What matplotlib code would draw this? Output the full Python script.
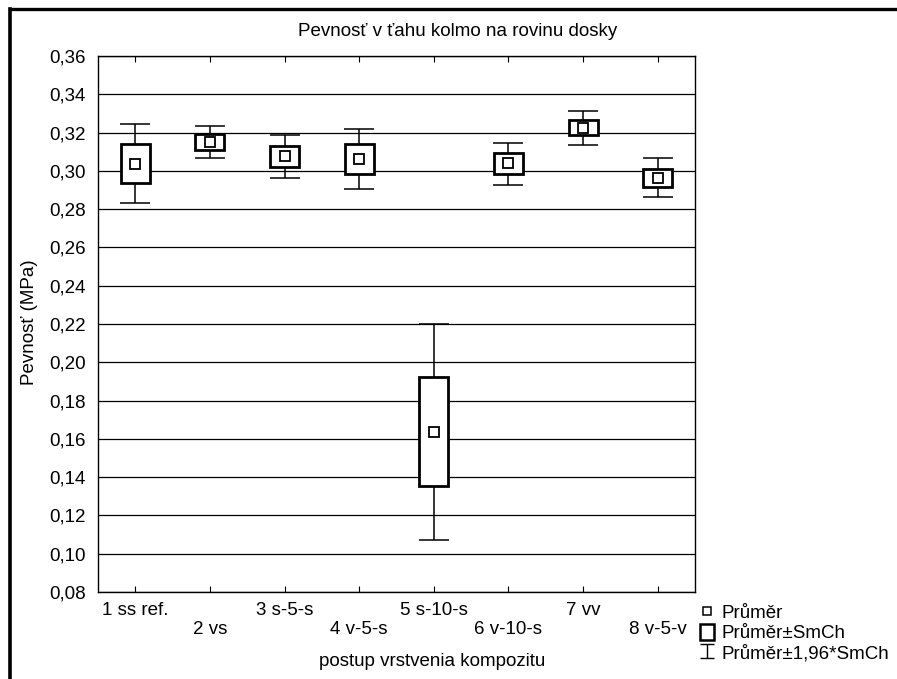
import matplotlib
matplotlib.use("Agg")
import matplotlib.pyplot as plt
from matplotlib.lines import Line2D
from matplotlib.patches import Rectangle
from matplotlib.path import Path

plt.rcParams['font.family'] = ['Liberation Sans', 'DejaVu Sans']

# data
groups = ['1 ss ref.', '2 vs', '3 s-5-s', '4 v-5-s', '5 s-10-s', '6 v-10-s', '7 vv', '8 v-5-v']
mean = [0.3038, 0.3151, 0.3076, 0.3063, 0.1636, 0.3040, 0.3226, 0.2963]
se_lo = [0.2935, 0.3111, 0.3021, 0.2986, 0.1354, 0.2986, 0.3186, 0.2916]
se_hi = [0.3138, 0.3193, 0.3128, 0.3138, 0.1922, 0.3093, 0.3268, 0.3010]
ci_lo = [0.2830, 0.3068, 0.2963, 0.2905, 0.1072, 0.2926, 0.3137, 0.2863]
ci_hi = [0.3244, 0.3233, 0.3186, 0.3219, 0.2200, 0.3147, 0.3314, 0.3065]
yticks = [0.08, 0.10, 0.12, 0.14, 0.16, 0.18, 0.20, 0.22, 0.24, 0.26, 0.28, 0.30, 0.32, 0.34, 0.36]

fs = 13.5
W, H = 897, 679
fig = plt.figure(figsize=(W / 100, H / 100), dpi=100)
ax = fig.add_axes([98 / W, (H - 592) / H, 597 / W, 536 / H])

x = list(range(1, len(groups) + 1))

# whiskers (mean +- 1.96*SE)
ax.errorbar(x, mean, yerr=[[m - l for m, l in zip(mean, ci_lo)], [h - m for m, h in zip(mean, ci_hi)]],
            fmt='none', ecolor='black', elinewidth=1.1, capsize=10.5, capthick=1.1, zorder=3)
# boxes (mean +- SE)
ax.bar(x, [h - l for l, h in zip(se_lo, se_hi)], bottom=se_lo, width=0.39,
       facecolor='white', edgecolor='black', linewidth=2, zorder=4)
ax.plot(x, mean, 's', ms=7, mfc='white', mec='black', mew=1.3, zorder=5)

ax.set_xlim(0.5, 8.5)
ax.set_ylim(0.08, 0.36)
ax.set_yticks(yticks)
ax.set_yticklabels([('%.2f' % v).replace('.', ',') for v in yticks], fontsize=fs)
ax.set_xticks(x)
# staggered category labels
ax.set_xticklabels([g if i % 2 == 0 else '\n' + g for i, g in enumerate(groups)], fontsize=fs)
ax.tick_params(axis='x', direction='in', length=4, top=True, pad=7)
ax.tick_params(axis='y', length=0, pad=9)
ax.grid(axis='y', color='black', linewidth=0.9, zorder=0)
ax.set_axisbelow(True)
for s in ax.spines.values():
    s.set_linewidth(1.0)

fig.text(458 / W, 1 - 32 / H, 'Pevnosť v ťahu kolmo na rovinu dosky', ha='center', va='center', fontsize=fs)
fig.text(432 / W, 1 - 661 / H, 'postup vrstvenia kompozitu', ha='center', va='center', fontsize=fs)
fig.text(29 / W, 1 - 322 / H, 'Pevnosť (MPa)', ha='center', va='center', rotation=90, fontsize=fs)

# legend
ibeam = Path([(-1, -1), (1, -1), (0, -1), (0, 1), (-1, 1), (1, 1)],
             [Path.MOVETO, Path.LINETO, Path.MOVETO, Path.LINETO, Path.MOVETO, Path.LINETO])
h1 = Line2D([], [], marker='s', ms=6, mfc='white', mec='black', mew=1.1, ls='none')
h2 = Rectangle((0, 0), 1, 1, facecolor='white', edgecolor='black', linewidth=1.8)
h3 = Line2D([], [], marker=ibeam, ms=10, mfc='none', mec='black', mew=1.0, ls='none')
fig.legend([h1, h2, h3], ['Průměr', 'Průměr±SmCh', 'Průměr±1,96*SmCh'],
           loc='upper left', bbox_to_anchor=(700 / W, 1 - 604 / H), frameon=False,
           fontsize=fs, handlelength=0.75, handleheight=0.9, handletextpad=0.4,
           labelspacing=0.1, borderpad=0, borderaxespad=0)

# outer frame of the original screenshot
fig.add_artist(Line2D([10 / W, 1], [1 - 8.5 / H, 1 - 8.5 / H], color='black', lw=2.4, transform=fig.transFigure))
fig.add_artist(Line2D([10 / W, 10 / W], [0, 1 - 8.5 / H], color='black', lw=2.6, transform=fig.transFigure))

fig.savefig('out.png', dpi=100)
